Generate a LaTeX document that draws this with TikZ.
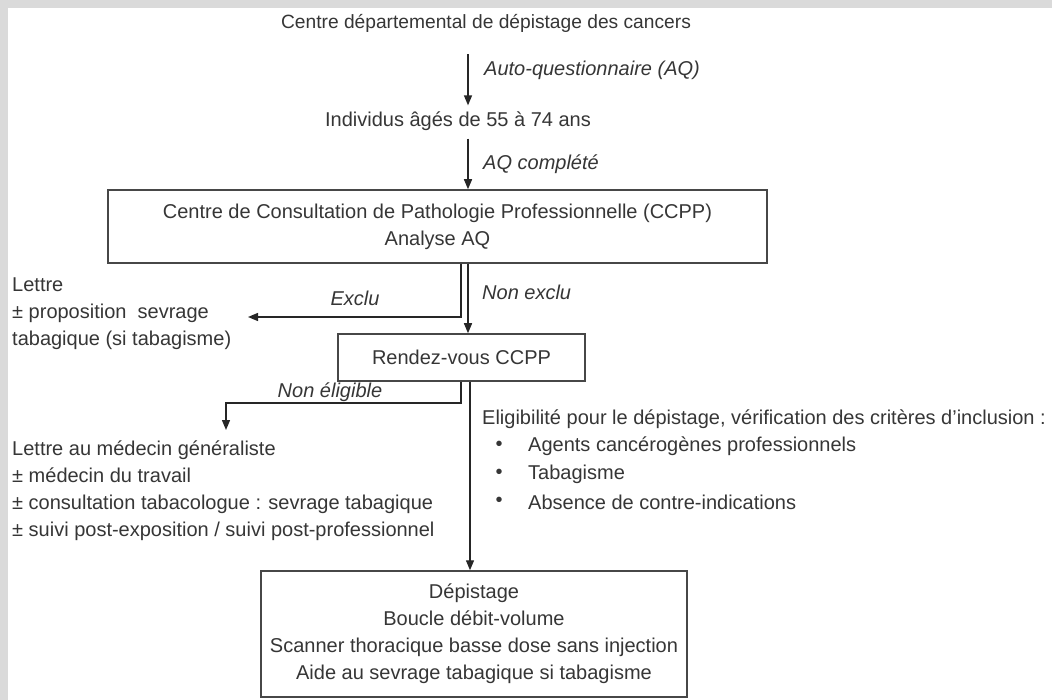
\documentclass[tikz,border=0pt]{standalone}
\usepackage{fontspec}
\setmainfont{Liberation Sans}
\usetikzlibrary{arrows.meta}
\definecolor{encre}{HTML}{363636}
\definecolor{trait}{HTML}{262626}
\definecolor{cadre}{HTML}{DADADA}
\tikzset{
  txt/.style={text=encre, inner sep=0pt, font=\fontsize{20}{27}\selectfont},
  lbl/.style={txt, font=\fontsize{20}{27}\selectfont\itshape},
  boite/.style={txt, draw=trait!85, line width=1.5pt, align=center},
  fleche/.style={draw=trait, line width=1.4pt, -{Triangle[length=10pt,width=8pt]}}
}
\begin{document}
\begin{tikzpicture}[x=1pt,y=-1pt]
\useasboundingbox (0,0) rectangle (1052,700);
\fill[cadre] (0,0) rectangle (1052,700);
\fill[white] (8,8) rectangle (1052,700);
\coordinate (tronc) at (468,0);
\coordinate (exg) at (461,317);
\coordinate (exfin) at (248,317);
\coordinate (ne) at (226,403);
\coordinate (elig) at (470,0);
\path
	(486,23) node [txt, font=\fontsize{19.2}{27}\selectfont] (centre) {Centre départemental de dépistage des cancers}
	(458,121) node [txt] (indiv) {Individus âgés de 55 à 74 ans}
	(437.5,226.5) node [boite, minimum width=659pt, minimum height=73pt] (ccpp)
		{Centre de Consultation de Pathologie Professionnelle (CCPP)\\Analyse AQ}
	(461.5,357.5) node [boite, minimum width=247pt, minimum height=47pt] (rdv) {Rendez-vous CCPP}
	(474,634) node [boite, minimum width=426pt, minimum height=126pt] (depist)
		{Dépistage\\Boucle débit-volume\\Scanner thoracique basse dose sans injection\\Aide au sevrage tabagique si tabagisme}
	(12,314) node [txt, anchor=west, align=left] (lettre)
		{Lettre\\± proposition\ \ sevrage\\tabagique (si tabagisme)}
	(12,441) node [txt, anchor=north west, align=left] (lettremg)
		{Lettre au médecin généraliste\\± médecin du travail\\± consultation tabacologue : sevrage tabagique\\± suivi post-exposition / suivi post-professionnel}
	(482,419) node [txt, anchor=west] (eligib) {Eligibilité pour le dépistage, vérification des critères d'inclusion :}
	(499,446) node [txt] (puce1) {•}
	(528,446) node [txt, anchor=west] (agents) {Agents cancérogènes professionnels}
	(499,474) node [txt] (puce2) {•}
	(528,474) node [txt, anchor=west] (tabac) {Tabagisme}
	(499,502) node [txt] (puce3) {•}
	(528,502) node [txt, anchor=west] (absence) {Absence de contre-indications};
\path
	(484,70) node [lbl, anchor=west] (lblaq) {Auto-questionnaire (AQ)}
	(483,164) node [lbl, anchor=west] (lblcomp) {AQ complété}
	(355,298) node [lbl] (lblexclu) {Exclu}
	(482,292) node [lbl, anchor=west] (lblnonexclu) {Non exclu}
	(330,392) node [lbl] (lblnonelig) {Non éligible};
\draw[fleche] ([yshift=-22pt]centre.south -| tronc) -- ([yshift=6pt]indiv.north -| tronc);
\draw[fleche] ([yshift=-8pt]indiv.south -| tronc) -- (ccpp.north -| tronc);
\draw[fleche] (ccpp.south -| exg) -- (exg) -- (exfin);
\draw[fleche] (ccpp.south -| tronc) -- (rdv.north -| tronc);
\draw[fleche] (rdv.south -| exg) |- (ne) -- ([yshift=11pt]lettremg.north -| ne);
\draw[fleche] (rdv.south -| elig) -- (depist.north -| elig);
\end{tikzpicture}
\end{document}
